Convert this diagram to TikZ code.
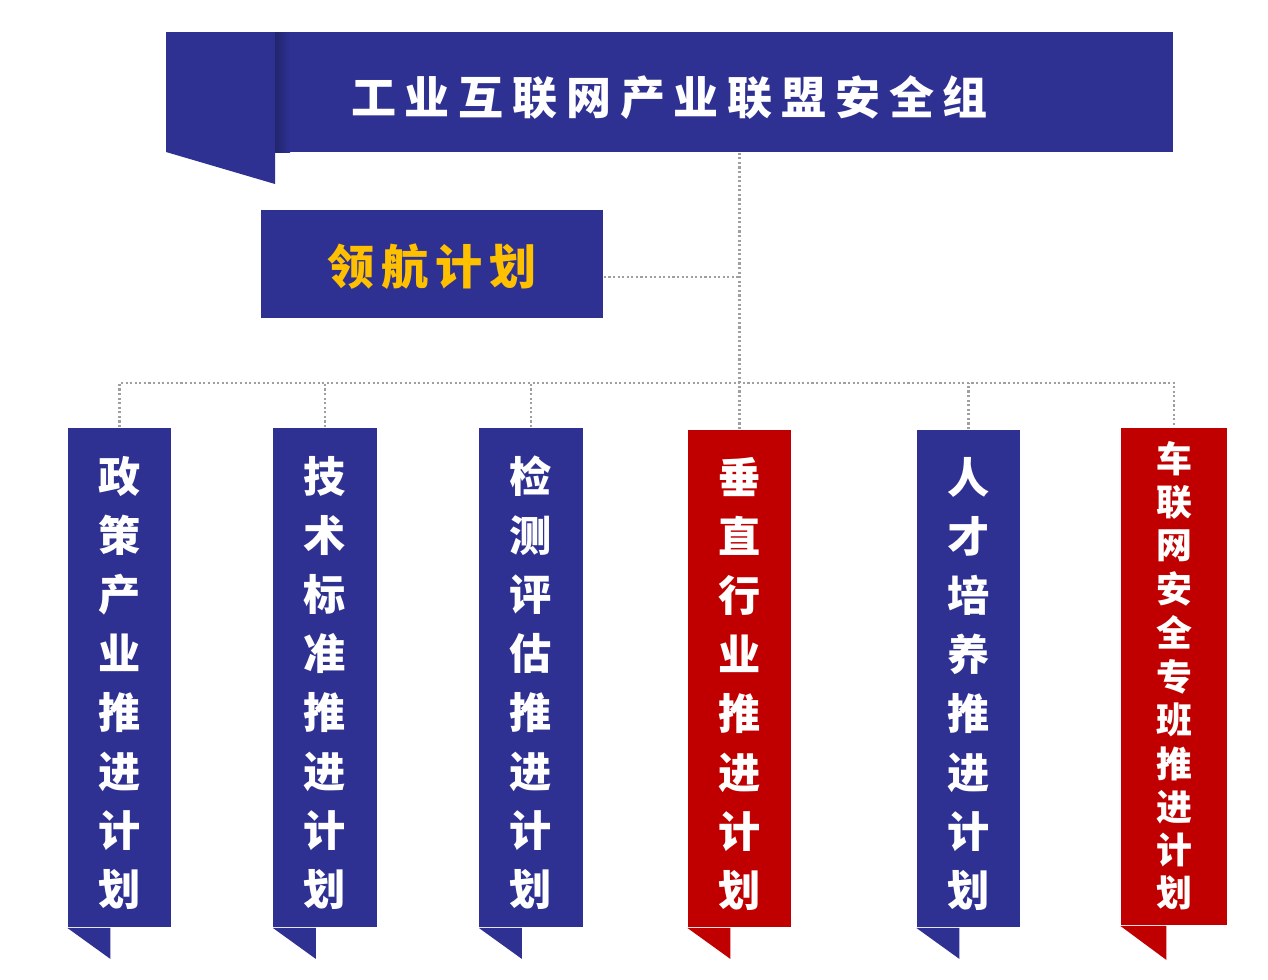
\documentclass[tikz,border=0pt]{standalone}
\usepackage{fontspec}
\newfontfamily\cjk{Noto Sans CJK SC}
\usetikzlibrary{positioning, calc}
\definecolor{bannerblue}{HTML}{2E3192}
\definecolor{planred}{HTML}{C00000}
\definecolor{leadgold}{HTML}{FFC000}
% spread the characters of a title apart
\makeatletter
\newcommand\spreadout[2]{\def\spsep{}\@tfor\spc:=#2\do{\spsep\spc\def\spsep{\hspace{#1}}}}
\makeatother
% stack the characters of a column
\newcommand\stackdown[2]{\raisebox{#1}[\height][\depth]{\begin{tabular}{@{}c@{}}#2\end{tabular}}}
\tikzset{
	plan/.style={shape=rectangle, fill=bannerblue, text=white, inner sep=0pt,
		minimum width=1.03cm, minimum height=4.99cm,
		font=\cjk\bfseries\fontsize{12pt}{16.8pt}\selectfont},
	link/.style={draw=gray!75, dash pattern=on 0.6pt off 0.7pt, line width=0.7pt},
}

\begin{document}
\begin{tikzpicture}[x=0.01cm, y=-0.01cm]
	\useasboundingbox (0,0) rectangle (1268,979);

	\node[shape=rectangle, fill=bannerblue, text=white, minimum width=10.07cm, minimum height=1.2cm, inner sep=0pt, font=\cjk\bfseries\fontsize{12.8pt}{14pt}\selectfont] (top) at (669.5, 92) {\raisebox{-1.55pt}[\height][\depth]{\spreadout{2.5pt}{工业互联网产业联盟安全组}}};
	\fill[bannerblue] (166,152) -- (275,152) -- (275,184) -- cycle;
	\shade[left color=black!25!bannerblue, right color=bannerblue] (275,33) rectangle (290,152);

	\node[shape=rectangle, fill=bannerblue, text=leadgold, minimum width=3.42cm, minimum height=1.08cm, inner sep=0pt, font=\cjk\bfseries\fontsize{13.4pt}{15pt}\selectfont] (lead) at (432, 264) {\raisebox{-0.7pt}[\height][\depth]{\spreadout{1.9pt}{领航计划}}};

	\node[plan] (c1) at (119.5, 677.5) {\stackdown{-2.8pt}{政\\策\\产\\业\\推\\进\\计\\划}};
	\node[plan] (c2) at (325, 677.5) {\stackdown{-2.8pt}{技\\术\\标\\准\\推\\进\\计\\划}};
	\node[plan] (c3) at (531, 677.5) {\stackdown{-2.8pt}{检\\测\\评\\估\\推\\进\\计\\划}};
	\node[plan, fill=planred, minimum height=4.97cm] (c4) at (739.5, 678.5) {\stackdown{-2.8pt}{垂\\直\\行\\业\\推\\进\\计\\划}};
	\node[plan, minimum height=4.97cm] (c5) at (968.5, 678.5) {\stackdown{-2.8pt}{人\\才\\培\\养\\推\\进\\计\\划}};
	\node[plan, fill=planred, minimum width=1.06cm, minimum height=4.97cm, font=\cjk\bfseries\fontsize{10.2pt}{12.2pt}\selectfont] (c6) at (1174, 676.5) {\stackdown{-1.2pt}{车\\联\\网\\安\\全\\专\\班\\推\\进\\计\\划}};

	% folded tails under the columns
	\fill[bannerblue] (c1.south west) -- ++(43,0) -- ++(0,31) -- cycle;
	\fill[bannerblue] (c2.south west) -- ++(43,0) -- ++(0,31) -- cycle;
	\fill[bannerblue] (c3.south west) -- ++(43,0) -- ++(0,31) -- cycle;
	\fill[planred] (c4.south west) -- ++(43,0) -- ++(0,31) -- cycle;
	\fill[bannerblue] (c5.south west) -- ++(43,0) -- ++(0,31) -- cycle;
	\fill[planred] (c6.south west) -- ++(46,0) -- ++(0,34) -- cycle;

	\coordinate (bus) at (0, 383);
	\path[link] (c4.north |- top.south) edge (c4.north);
	\path[link] ([yshift=-0.13cm]lead.east) edge ([yshift=-0.13cm]lead.east -| c4.north);
	\draw[link] (c1.north) -- (c1.north |- bus) -- (c6.north |- bus) -- (c6.north);
	\path[link] (c2.north) edge (c2.north |- bus);
	\path[link] (c3.north) edge (c3.north |- bus);
	\path[link] (c5.north) edge (c5.north |- bus);
\end{tikzpicture}
\end{document}
